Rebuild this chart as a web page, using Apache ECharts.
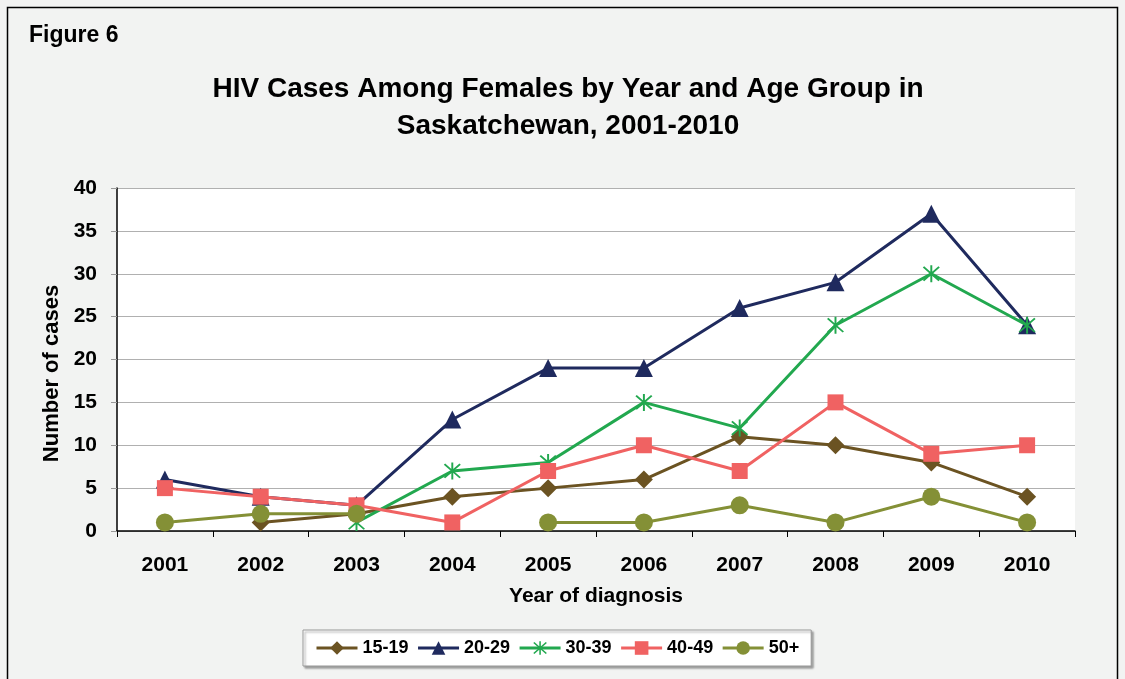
<!DOCTYPE html>
<html><head><meta charset="utf-8">
<script src="https://cdn.jsdelivr.net/npm/echarts@6/dist/echarts.min.js"></script>
<style>html,body{margin:0;padding:0;background:#f2f3f2;}#c{width:1125px;height:679px;}</style>
</head><body><div id="c"></div>
<script>
var years = ['2001','2002','2003','2004','2005','2006','2007','2008','2009','2010'];
var seriesNames = ['15-19','20-29','30-39','40-49','50+'];
var age15_19 = [null, 1, 2, 4, 5, 6, 11, 10, 8, 4];
var age20_29 = [6, 4, 3, 13, 19, 19, 26, 29, 37, 24];
var age30_39 = [null, null, 1, 7, 8, 15, 12, 24, 30, 24];
var age40_49 = [5, 4, 3, 1, 7, 10, 7, 15, 9, 10];
var age50plus = [1, 2, 2, null, 1, 1, 3, 1, 4, 1];
var yTicks = [0, 5, 10, 15, 20, 25, 30, 35, 40];

var FONT = '"Liberation Sans", Arial, sans-serif';
var star = 'path://M9,0 L11,0 L11,20 L9,20 Z M2.7,1.3 L18.7,17.3 L17.3,18.7 L1.3,2.7 Z M17.3,1.3 L18.7,2.7 L2.7,18.7 L1.3,17.3 Z';
var colors = ['#6b5322','#1f2a5e','#22a84f','#f06262','#849036'];
var symbols = ['diamond','triangle',star,'rect','circle'];
var sizes = [18,18,17,16,18];
var datas = [age15_19, age20_29, age30_39, age40_49, age50plus];

var chart = echarts.init(document.getElementById('c'));
chart.setOption({
  backgroundColor: '#f2f3f2',
  animation: false,
  textStyle: {fontFamily: FONT},
  title: [{
    text: 'Figure 6', left: 24, top: 19,
    textStyle: {fontFamily: FONT, fontSize: 23, fontWeight: 'bold', color: '#000'}
  },{
    text: 'HIV Cases Among Females by Year and Age Group in\nSaskatchewan, 2001-2010',
    left: 563, top: 66, textAlign: 'center',
    textStyle: {fontFamily: FONT, fontSize: 28, fontWeight: 'bold', color: '#000', lineHeight: 37}
  }],
  graphic: [{
    type: 'rect', shape: {x: 7.5, y: 7.5, width: 1110, height: 690},
    style: {fill: 'none', stroke: '#000', lineWidth: 1.5}, silent: true
  }],
  grid: {left: 117, right: 50, top: 188, bottom: 148, show: true, backgroundColor: '#ffffff', borderWidth: 0},
  legend: {
    left: 303, top: 630,
    itemWidth: 41, itemHeight: 17, itemGap: 8,
    padding: [9, 12, 9, 12],
    backgroundColor: '#fff', borderColor: '#999', borderWidth: 1,
    shadowColor: 'rgba(0,0,0,0.35)', shadowOffsetX: 2, shadowOffsetY: 2, shadowBlur: 2,
    lineStyle: {width: 3},
    textStyle: {fontFamily: FONT, fontSize: 18, fontWeight: 'bold', color: '#000'},
    data: seriesNames
  },
  xAxis: {
    type: 'category', data: years, boundaryGap: true,
    name: 'Year of diagnosis', nameLocation: 'middle', nameGap: 55,
    nameTextStyle: {fontFamily: FONT, fontSize: 21, fontWeight: 'bold', color: '#000'},
    axisLine: {lineStyle: {color: '#000', width: 1.5}},
    axisTick: {show: true, length: 6, lineStyle: {color: '#000'}},
    axisLabel: {fontFamily: FONT, fontSize: 21, fontWeight: 'bold', color: '#000', margin: 24},
    splitLine: {show: false}
  },
  yAxis: {
    type: 'value', min: 0, max: 40, interval: 5,
    name: 'Number of cases', nameLocation: 'middle', nameGap: 54, nameRotate: 90,
    nameTextStyle: {fontFamily: FONT, fontSize: 22, fontWeight: 'bold', color: '#000', padding: [0, 28, 0, 0]},
    axisLine: {show: true, lineStyle: {color: '#000', width: 1.5}},
    axisTick: {show: true, length: 6, lineStyle: {color: '#999'}},
    axisLabel: {fontFamily: FONT, fontSize: 21, fontWeight: 'bold', color: '#000', margin: 20,
      formatter: function(v){ return yTicks.indexOf(v) >= 0 ? String(v) : ''; }},
    splitLine: {show: true, lineStyle: {color: '#b0b0b0', width: 1}}
  },
  series: seriesNames.map(function(n, i){
    return {
      name: n, type: 'line', data: datas[i],
      connectNulls: false,
      symbol: symbols[i], symbolSize: sizes[i], showAllSymbol: true,
      lineStyle: {color: colors[i], width: 3},
      itemStyle: {color: colors[i], borderWidth: 0},
      z: 2 + i
    };
  })
});
</script></body></html>
